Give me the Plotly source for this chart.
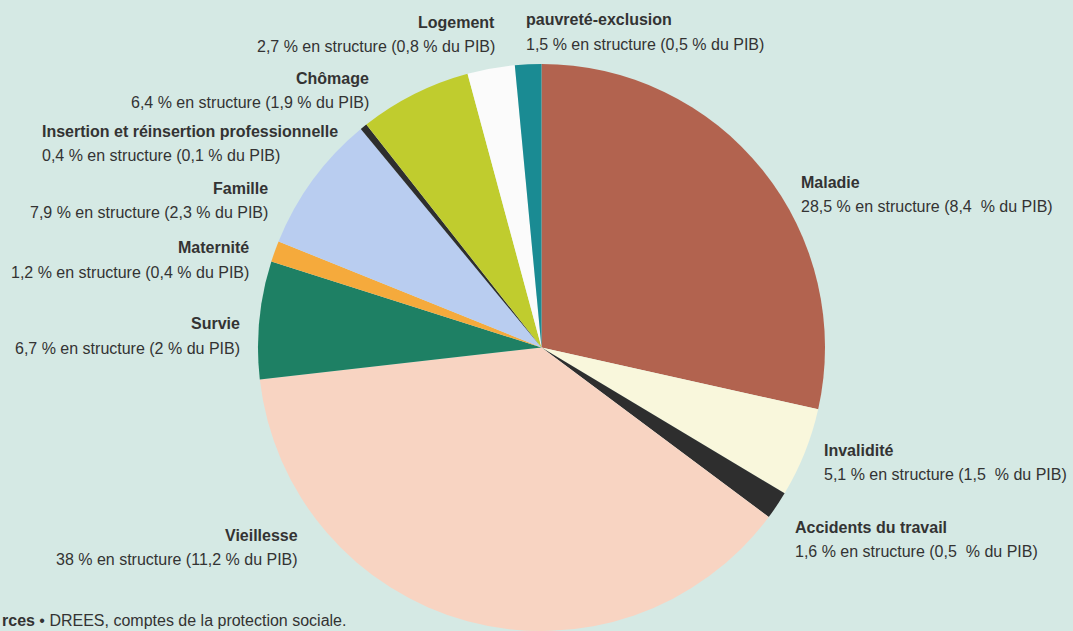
import plotly.graph_objects as go

W, H = 1073, 631

categories = ["Maladie", "Invalidité", "Accidents du travail", "Vieillesse", "Survie",
              "Maternité", "Famille", "Insertion et réinsertion professionnelle",
              "Chômage", "Logement", "pauvreté-exclusion"]
structure = [28.5, 5.1, 1.6, 38, 6.7, 1.2, 7.9, 0.4, 6.4, 2.7, 1.5]
detail_labels = [
    "28,5 % en structure (8,4  % du PIB)",
    "5,1 % en structure (1,5  % du PIB)",
    "1,6 % en structure (0,5  % du PIB)",
    "38 % en structure (11,2 % du PIB)",
    "6,7 % en structure (2 % du PIB)",
    "1,2 % en structure (0,4 % du PIB)",
    "7,9 % en structure (2,3 % du PIB)",
    "0,4 % en structure (0,1 % du PIB)",
    "6,4 % en structure (1,9 % du PIB)",
    "2,7 % en structure (0,8 % du PIB)",
    "1,5 % en structure (0,5 % du PIB)",
]
colors = ["#b2634f", "#f9f7dc", "#2e2e2e", "#f8d4c2", "#1e8064", "#f5aa3c",
          "#b9cdf0", "#2e2e2e", "#c0cc2e", "#fbfbfb", "#1a8b93"]

# label placement (pixel coords: x anchor, y of title line, alignment)
label_pos = [
    (799, 182, "left"),
    (822, 450, "left"),
    (793, 527, "left"),
    (300, 535, "right"),
    (242, 324, "right"),
    (251, 248, "right"),
    (270, 189, "right"),
    (40, 131, "left"),
    (371, 78, "right"),
    (497, 23, "right"),
    (524, 20, "left"),
]

FONT = "Liberation Sans Narrow, Arial Narrow, Liberation Sans, Arial, sans-serif"
TXT = "#333333"
FS = 16

cx, top = 541.5, 64
r = (H - top) / 2
fig = go.Figure(go.Pie(
    labels=categories, values=structure, sort=False, direction="clockwise",
    rotation=0, marker=dict(colors=colors, line=dict(width=0)),
    textinfo="none", hoverinfo="label+percent", showlegend=False,
    domain=dict(x=[(cx - r - 5) / W, (cx + r + 5) / W], y=[0, (H - top) / H]),
))

annotations = []
for cat, det, (x, y, al) in zip(categories, detail_labels, label_pos):
    xanchor = "left" if al == "left" else "right"
    annotations.append(dict(x=x / W, y=1 - y / H, xref="paper", yref="paper",
                            text="<b>" + cat + "</b>", showarrow=False,
                            xanchor=xanchor, yanchor="middle",
                            font=dict(family=FONT, size=FS, color=TXT)))
    annotations.append(dict(x=x / W, y=1 - (y + 24) / H, xref="paper", yref="paper",
                            text=det, showarrow=False,
                            xanchor=xanchor, yanchor="middle",
                            font=dict(family=FONT, size=FS, color=TXT)))

annotations.append(dict(x=0, y=1 - 620 / H, xref="paper", yref="paper",
                        text="<b>rces</b> • DREES, comptes de la protection sociale.",
                        showarrow=False, xanchor="left", yanchor="middle",
                        font=dict(family="Liberation Sans, Arial, sans-serif", size=16, color=TXT)))

fig.update_layout(width=W, height=H, margin=dict(l=0, r=0, t=0, b=0),
                  paper_bgcolor="#d5e9e4", plot_bgcolor="#d5e9e4",
                  annotations=annotations)
fig.write_html("out.html", config={"displayModeBar": False},
               post_script="document.body.style.margin='0';document.body.style.overflow='hidden';")
